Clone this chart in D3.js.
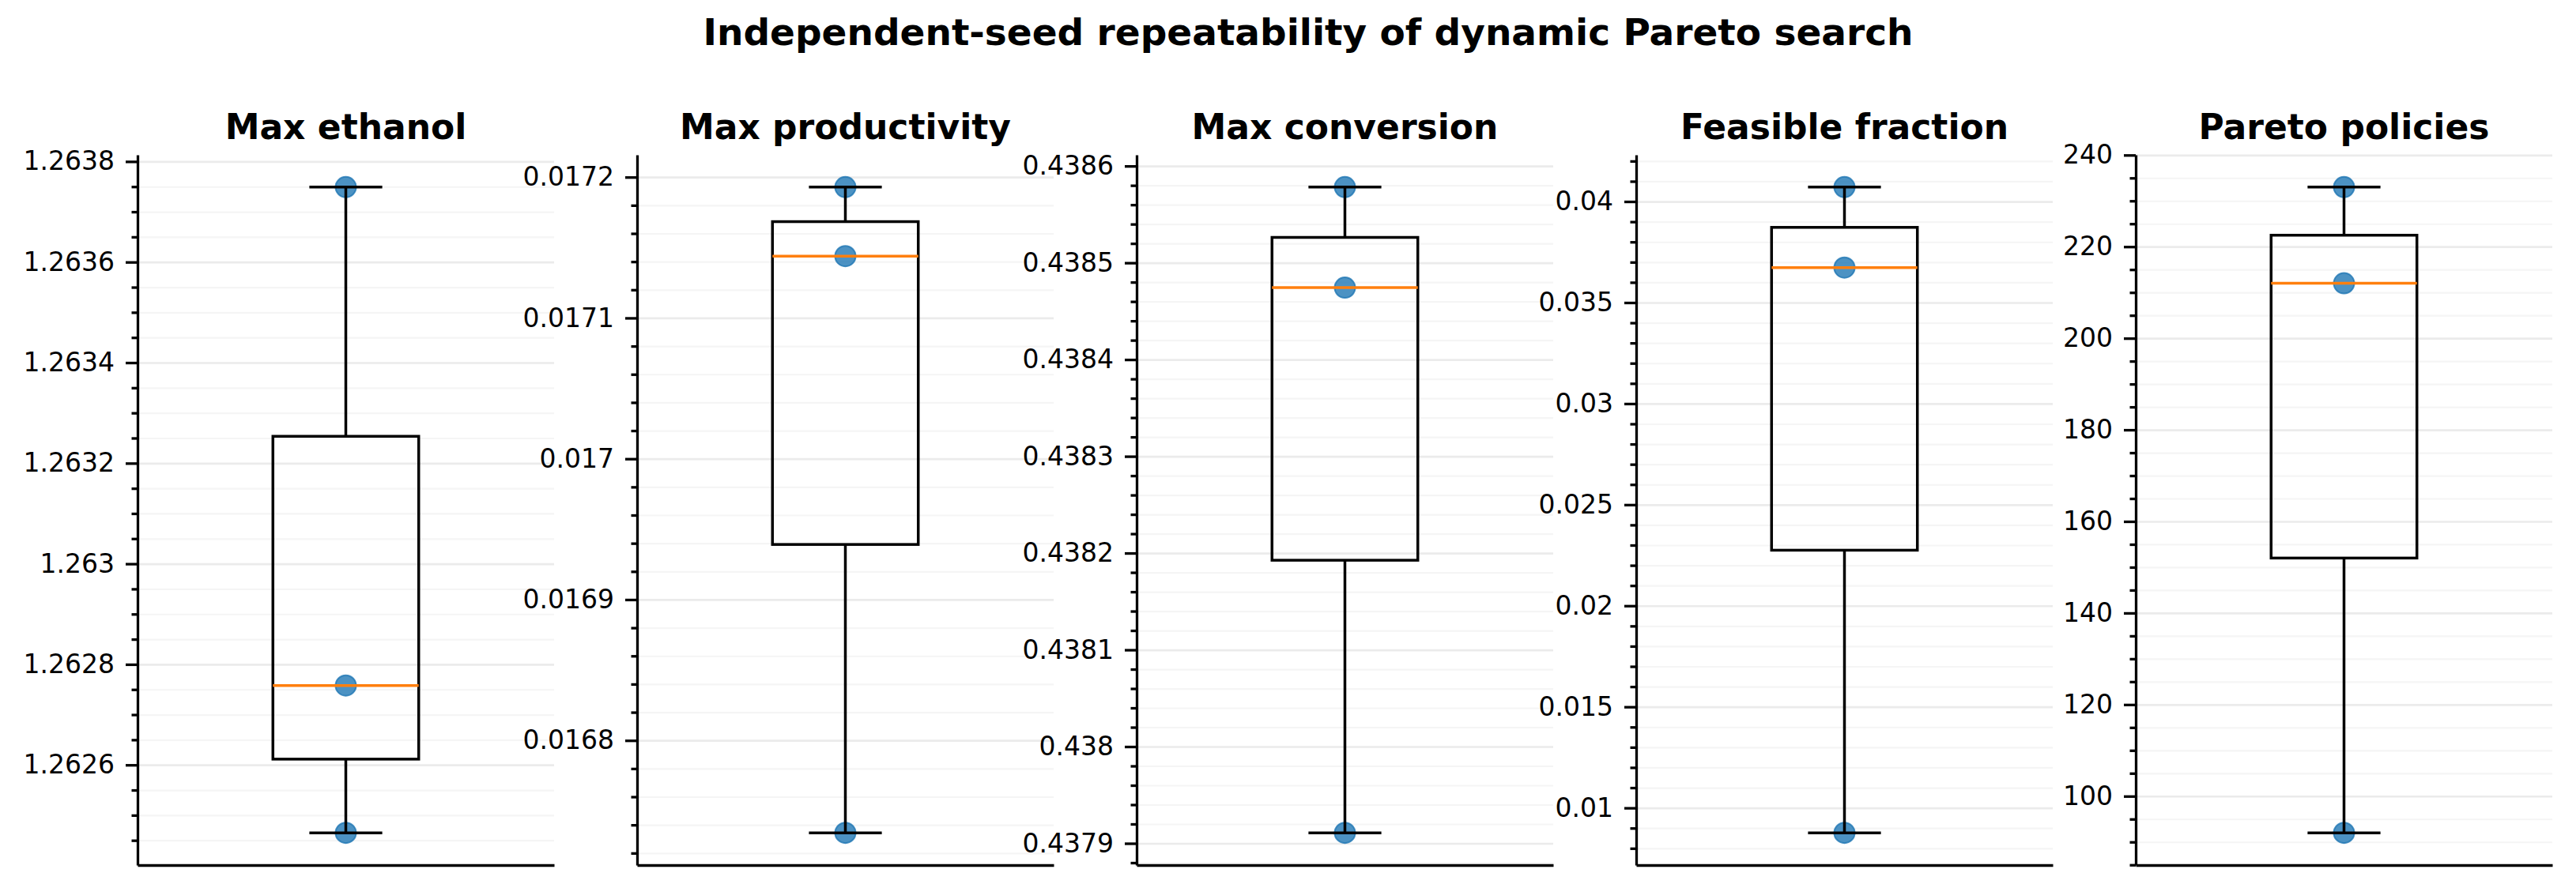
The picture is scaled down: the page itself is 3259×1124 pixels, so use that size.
<!DOCTYPE html>
<html>
<head>
<meta charset="utf-8">
<script src="https://cdn.jsdelivr.net/npm/d3@7"></script>
<style>
  body { margin: 0; background: #ffffff; }
  text { font-family: "DejaVu Sans", sans-serif; fill: #000000; }
  .axis text { font-size: 33px; }
  .axis path, .axis line { stroke: #000000; stroke-width: 3.3; }
  .grid-major line { stroke: #ebebeb; stroke-width: 2.7; }
  .grid-minor line { stroke: #f5f5f5; stroke-width: 2.2; }
  .grid-major path, .grid-minor path { display: none; }
  .title { font-size: 44px; font-weight: bold; }
  .suptitle { font-size: 47px; font-weight: bold; }
</style>
</head>
<body>
<svg id="svg" width="3259" height="1124"></svg>
<script>
// three independent seeds per metric
var panelTitles = ["Max ethanol", "Max productivity", "Max conversion", "Feasible fraction", "Pareto policies"];
var maxEthanol = [1.262465, 1.262758, 1.263749];
var maxProductivity = [0.0167344, 0.0171439, 0.0171929];
var maxConversion = [0.4379109, 0.4384743, 0.4385782];
var feasibleFraction = [0.008768, 0.036730, 0.040711];
var paretoPolicies = [92, 212, 233];

var ethanolTicks = [1.2626, 1.2628, 1.263, 1.2632, 1.2634, 1.2636, 1.2638];
var productivityTicks = [0.0168, 0.0169, 0.017, 0.0171, 0.0172];
var conversionTicks = [0.4379, 0.438, 0.4381, 0.4382, 0.4383, 0.4384, 0.4385, 0.4386];
var feasibleTicks = [0.01, 0.015, 0.02, 0.025, 0.03, 0.035, 0.04];
var paretoTicks = [100, 120, 140, 160, 180, 200, 220, 240];
var minorDivisions = [4, 5, 5, 5, 4];

var seriesList = [maxEthanol, maxProductivity, maxConversion, feasibleFraction, paretoPolicies];
var tickList = [ethanolTicks, productivityTicks, conversionTicks, feasibleTicks, paretoTicks];

var params = {
  "svg": { "width": 3259, "height": 1124 },
  "plot": { "x": 174, "y": 196, "width": 527, "height": 899, "step": 632 },
  "box": { "width": 0.35 }
};

var translate = function(x, y) {
  return "translate(" + x + "," + y + ")";
};

var fmt = d3.format("~g");

var svg = d3.select("#svg");

svg.append("text")
  .attr("class", "suptitle")
  .attr("text-anchor", "middle")
  .attr("x", 1655)
  .attr("y", 57)
  .text("Independent-seed repeatability of dynamic Pareto search");

var drawPanel = function(i) {
  var values = seriesList[i].slice().sort(d3.ascending);
  var ticks = tickList[i];
  var lo = d3.min(values), hi = d3.max(values);
  var pad = (hi - lo) * 0.05;

  var y = d3.scaleLinear()
    .domain([lo - pad, hi + pad])
    .range([params.plot.height, 0]);
  var x = d3.scaleLinear()
    .domain([0.5, 1.5])
    .range([0, params.plot.width]);

  // minor ticks between the major ones
  var majorStep = ticks[1] - ticks[0];
  var minorStep = majorStep / minorDivisions[i];
  var minor = [];
  for (var k = -minorDivisions[i] * 3; k <= (ticks.length + 3) * minorDivisions[i]; k++) {
    if (k % minorDivisions[i] === 0) continue;
    var v = ticks[0] + k * minorStep;
    if (v >= y.domain()[0] && v <= y.domain()[1]) minor.push(v);
  }

  var g = svg.append("g")
    .attr("transform", translate(params.plot.x + i * params.plot.step, params.plot.y));

  g.append("g").attr("class", "grid-minor")
    .call(d3.axisLeft(y).tickValues(minor).tickSize(-params.plot.width).tickFormat(""));
  g.append("g").attr("class", "grid-major")
    .call(d3.axisLeft(y).tickValues(ticks).tickSize(-params.plot.width).tickFormat(""));

  var q1 = d3.quantile(values, 0.25);
  var med = d3.quantile(values, 0.5);
  var q3 = d3.quantile(values, 0.75);
  var cx = x(1);
  var bw = x(1 + params.box.width / 2) - x(1);
  var cw = bw / 2;

  // seed points, drawn under the box lines
  g.selectAll("circle.seed")
    .data(values)
    .enter()
    .append("circle")
    .attr("class", "seed")
    .attr("cx", cx)
    .attr("cy", function(d) { return y(d); })
    .attr("r", 13)
    .style("fill", "#1f77b4")
    .style("fill-opacity", 0.8)
    .style("stroke", "#1f77b4")
    .style("stroke-opacity", 0.8)
    .style("stroke-width", 2);

  var lines = g.append("g")
    .style("stroke", "#000000")
    .style("stroke-width", 3.5)
    .style("fill", "none");

  lines.append("line")
    .attr("x1", cx).attr("x2", cx)
    .attr("y1", y(q1)).attr("y2", y(lo));
  lines.append("line")
    .attr("x1", cx).attr("x2", cx)
    .attr("y1", y(q3)).attr("y2", y(hi));
  lines.append("line")
    .attr("x1", cx - cw).attr("x2", cx + cw)
    .attr("y1", y(lo)).attr("y2", y(lo));
  lines.append("line")
    .attr("x1", cx - cw).attr("x2", cx + cw)
    .attr("y1", y(hi)).attr("y2", y(hi));
  lines.append("rect")
    .attr("x", cx - bw)
    .attr("y", y(q3))
    .attr("width", 2 * bw)
    .attr("height", y(q1) - y(q3));

  g.append("line")
    .attr("x1", cx - bw).attr("x2", cx + bw)
    .attr("y1", y(med)).attr("y2", y(med))
    .style("stroke", "#ff7f0e")
    .style("stroke-width", 3.5);

  // spines and ticks
  g.append("g").attr("class", "axis")
    .call(d3.axisLeft(y).tickValues(minor).tickSize(7.5).tickSizeOuter(0).tickFormat(""))
    .select(".domain").remove();
  g.append("g").attr("class", "axis")
    .call(d3.axisLeft(y).tickValues(ticks).tickSize(15).tickSizeOuter(0).tickPadding(14).tickFormat(fmt));
  g.append("g").attr("class", "axis")
    .attr("transform", translate(0, params.plot.height))
    .call(d3.axisBottom(x).tickValues([]).tickSizeOuter(0));

  g.append("text")
    .attr("class", "title")
    .attr("text-anchor", "middle")
    .attr("x", params.plot.width / 2)
    .attr("y", -20)
    .text(panelTitles[i]);
};

for (var i = 0; i < panelTitles.length; i++) {
  drawPanel(i);
}
</script>
</body>
</html>
